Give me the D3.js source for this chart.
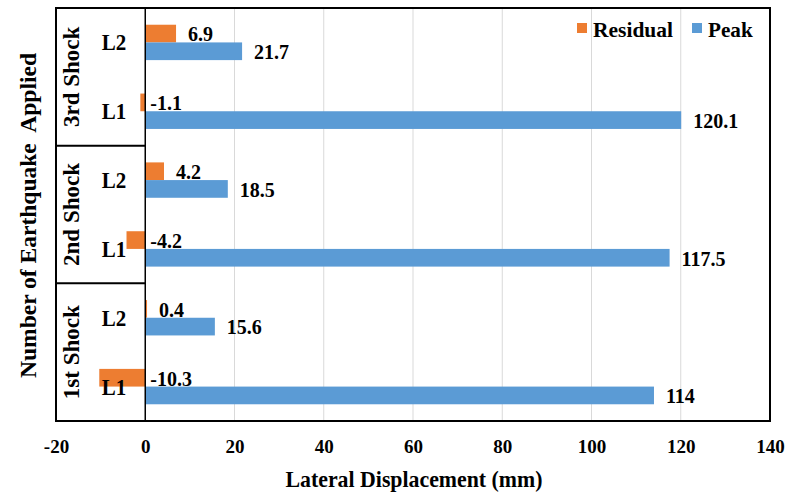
<!DOCTYPE html>
<html>
<head>
<meta charset="utf-8">
<script src="https://cdn.jsdelivr.net/npm/d3@7"></script>
<style>
  html, body { margin: 0; padding: 0; background: #fff; }
  svg { display: block; font-family: "Liberation Serif", "Times New Roman", serif; font-weight: bold; }
</style>
</head>
<body>
<svg id="chart" width="787" height="493"></svg>
<script>
// ---- data (bottom to top: 1st L1, 1st L2, 2nd L1, 2nd L2, 3rd L1, 3rd L2) ----
const groups = ["1st Shock", "2nd Shock", "3rd Shock"];
const levels = ["L1", "L2"];
const residual = [-10.3, 0.4, -4.2, 4.2, -1.1, 6.9];
const peak = [114, 15.6, 117.5, 18.5, 120.1, 21.7];
const seriesNames = ["Residual", "Peak"];
const seriesColors = ["#ED7D31", "#5B9BD5"];
const xTicks = [-20, 0, 20, 40, 60, 80, 100, 120, 140];
const xTitle = "Lateral Displacement (mm)";
const yTitle = "Number of Earthquake\u00A0 Applied";

// ---- layout ----
const svg = d3.select("#chart");
const L = 56, R = 770, T = 8, B = 421;

const x = d3.scaleLinear().domain([-20, 140]).range([L, R]);
const rows = d3.range(residual.length);
const y = d3.scaleBand().domain(rows.slice().reverse()).range([T, B]).padding(0);
const inner = d3.scaleBand().domain(seriesNames)
  .range([y.bandwidth() * 0.243, y.bandwidth() * 0.757]).padding(0);

const data = rows.map(i => ({
  i, group: groups[Math.floor(i / 2)], level: levels[i % 2],
  values: [residual[i], peak[i]]
}));

// gridlines
svg.append("g").selectAll("line")
  .data(xTicks.filter(t => t > 0 && t < 140))
  .join("line")
  .attr("x1", d => x(d)).attr("x2", d => x(d))
  .attr("y1", T).attr("y2", B)
  .attr("stroke", "#D9D9D9").attr("stroke-width", 1);

// bars
const rowG = svg.append("g").selectAll("g").data(data).join("g")
  .attr("transform", d => `translate(0,${y(d.i)})`);
rowG.selectAll("rect")
  .data(d => d.values.map((v, k) => ({ v, k })))
  .join("rect")
  .attr("x", d => x(Math.min(0, d.v)))
  .attr("width", d => Math.abs(x(d.v) - x(0)))
  .attr("y", d => inner(seriesNames[d.k]))
  .attr("height", inner.bandwidth())
  .attr("fill", d => seriesColors[d.k]);

// data labels
rowG.selectAll("text.lbl")
  .data(d => d.values.map((v, k) => ({ v, k })))
  .join("text").attr("class", "lbl")
  .attr("x", d => d.v >= 0 ? x(d.v) + 12 : x(0) + 5)
  .attr("y", d => inner(seriesNames[d.k]) + inner.bandwidth() - 1)
  .attr("font-size", 20)
  .attr("fill", "#000")
  .text(d => String(d.v));

// zero axis line
svg.append("line")
  .attr("x1", x(0)).attr("x2", x(0)).attr("y1", T).attr("y2", B)
  .attr("stroke", "#000").attr("stroke-width", 1.5);

// group separators (category label box)
const groupBounds = groups.map((g, gi) => [y(gi * 2 + 1), y(gi * 2) + y.bandwidth()]);
svg.append("g").selectAll("line")
  .data(groupBounds.slice(0, groups.length - 1))
  .join("line")
  .attr("x1", L).attr("x2", x(0))
  .attr("y1", d => d[0]).attr("y2", d => d[0])
  .attr("stroke", "#000").attr("stroke-width", 2);

// inner level labels
svg.append("g").selectAll("text")
  .data(data).join("text")
  .attr("x", 114).attr("y", d => y(d.i) + y.bandwidth() / 2 + 8)
  .attr("text-anchor", "middle")
  .attr("font-size", 23)
  .attr("textLength", 24.5).attr("lengthAdjust", "spacingAndGlyphs")
  .text(d => d.level);

// group labels (rotated)
svg.append("g").selectAll("text")
  .data(groups).join("text")
  .attr("transform", (g, gi) => {
    const b = groupBounds[gi];
    return `translate(78.5,${(b[0] + b[1]) / 2}) rotate(-90)`;
  })
  .attr("text-anchor", "middle")
  .attr("font-size", 23)
  .text(d => d);

// plot border
svg.append("rect")
  .attr("x", L).attr("y", T).attr("width", R - L).attr("height", B - T)
  .attr("fill", "none").attr("stroke", "#000").attr("stroke-width", 2);

// x axis tick labels
const xAxis = d3.axisBottom(x).tickValues(xTicks).tickSize(0).tickPadding(19)
  .tickFormat(d => String(d));
const ax = svg.append("g").attr("transform", `translate(0,${B})`).call(xAxis);
ax.select(".domain").remove();
ax.selectAll("text")
  .attr("font-family", "Liberation Serif, serif")
  .attr("font-weight", "bold")
  .attr("font-size", 19)
  .attr("fill", "#000");

// axis titles
svg.append("text")
  .attr("x", (L + R) / 2 + 1).attr("y", 487)
  .attr("text-anchor", "middle").attr("font-size", 24)
  .attr("textLength", 257).attr("lengthAdjust", "spacingAndGlyphs")
  .text(xTitle);

svg.append("text")
  .attr("transform", `translate(36,215.5) rotate(-90)`)
  .attr("text-anchor", "middle").attr("font-size", 24)
  .attr("textLength", 325).attr("lengthAdjust", "spacingAndGlyphs")
  .text(yTitle);

// legend
const legX = [577, 692];
const legTextW = [80, 44.7];
const leg = svg.append("g").selectAll("g").data(seriesNames).join("g");
leg.append("rect")
  .attr("x", (d, k) => legX[k]).attr("y", 23)
  .attr("width", 10).attr("height", 10)
  .attr("fill", (d, k) => seriesColors[k]);
leg.append("text")
  .attr("x", (d, k) => legX[k] + 16).attr("y", 36.7)
  .attr("font-size", 22)
  .attr("textLength", (d, k) => legTextW[k]).attr("lengthAdjust", "spacingAndGlyphs")
  .text(d => d);
</script>
</body>
</html>
